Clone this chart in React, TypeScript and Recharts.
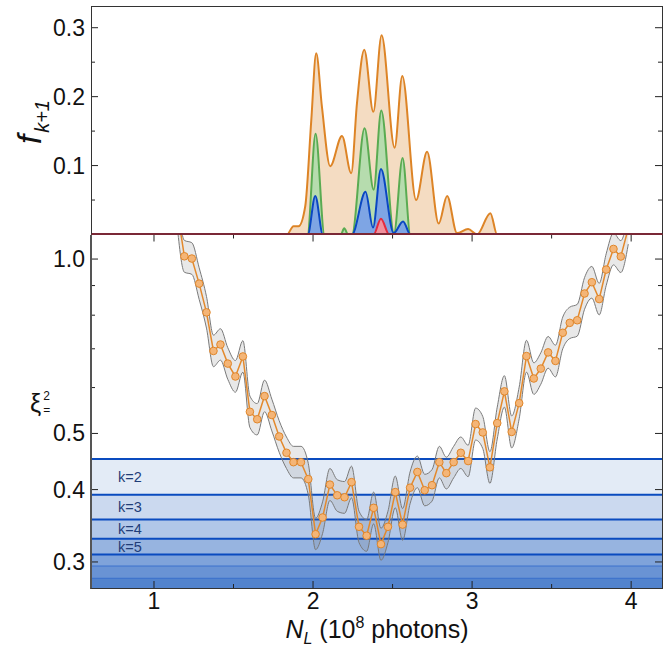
import React from "react";
import { ComposedChart, Area, Line, XAxis, YAxis, ReferenceArea, ReferenceLine } from "recharts";

const FONT = "'Liberation Sans', Arial, Helvetica, sans-serif";

// top panel: f_{k+1} against N_L, one curve per k
const orangeN = [0.6, 1.836, 1.877, 1.909, 1.951, 1.989, 2.02, 2.056, 2.108, 2.182, 2.24, 2.276, 2.322, 2.379, 2.431, 2.513, 2.561, 2.648, 2.717, 2.79, 2.843, 2.905, 2.975, 3.031, 3.115, 3.157, 4.2];
const orangeF = [0, 0, 0.012, 0.012, 0.041, 0.166, 0.263, 0.185, 0.099, 0.143, 0.089, 0.19, 0.268, 0.178, 0.289, 0.126, 0.23, 0.05, 0.12, 0.016, 0.056, 0.002, 0.008, 0, 0.031, 0, 0];
const greenN = [0.6, 1.965, 2.016, 2.072, 2.175, 2.196, 2.22, 2.245, 2.324, 2.381, 2.429, 2.509, 2.563, 2.612, 4.2];
const greenF = [0, 0, 0.146, 0, 0, 0.009, 0, 0, 0.154, 0.065, 0.18, 0.002, 0.111, 0, 0];
const blueN = [0.6, 1.967, 2.014, 2.062, 2.245, 2.33, 2.377, 2.427, 2.507, 2.566, 2.612, 4.2];
const blueF = [0, 0, 0.056, 0, 0, 0.062, 0.01, 0.095, 0.002, 0.019, 0, 0];
const redN = [0.6, 2.381, 2.427, 2.479, 4.2];
const redF = [0, 0, 0.023, 0, 0];

// bottom panel: xi^2 with its error band
const xiN = [1.145, 1.191, 1.238, 1.284, 1.33, 1.374, 1.418, 1.464, 1.512, 1.559, 1.603, 1.649, 1.695, 1.741, 1.787, 1.833, 1.877, 1.924, 1.97, 2.016, 2.06, 2.106, 2.152, 2.198, 2.242, 2.289, 2.337, 2.381, 2.427, 2.471, 2.517, 2.563, 2.61, 2.656, 2.702, 2.748, 2.794, 2.838, 2.884, 2.929, 2.975, 3.022, 3.067, 3.112, 3.158, 3.203, 3.249, 3.296, 3.342, 3.388, 3.432, 3.478, 3.524, 3.57, 3.614, 3.661, 3.707, 3.753, 3.799, 3.843, 3.889, 3.935, 3.982];
const xi = [1.22, 1.011, 1.002, 0.907, 0.809, 0.694, 0.712, 0.66, 0.627, 0.679, 0.545, 0.529, 0.58, 0.538, 0.494, 0.463, 0.446, 0.446, 0.417, 0.335, 0.358, 0.408, 0.391, 0.388, 0.412, 0.345, 0.333, 0.372, 0.322, 0.345, 0.396, 0.348, 0.403, 0.429, 0.399, 0.407, 0.446, 0.427, 0.446, 0.463, 0.448, 0.519, 0.502, 0.437, 0.521, 0.591, 0.503, 0.564, 0.68, 0.622, 0.647, 0.69, 0.667, 0.746, 0.776, 0.784, 0.872, 0.912, 0.853, 0.959, 1.041, 1.01, 1.13];
const xiHi = [1.3, 1.077, 1.067, 0.966, 0.862, 0.739, 0.758, 0.703, 0.668, 0.723, 0.58, 0.563, 0.618, 0.573, 0.526, 0.493, 0.475, 0.475, 0.444, 0.357, 0.381, 0.435, 0.416, 0.413, 0.439, 0.367, 0.355, 0.396, 0.343, 0.367, 0.422, 0.371, 0.429, 0.457, 0.425, 0.433, 0.475, 0.455, 0.475, 0.493, 0.477, 0.553, 0.535, 0.465, 0.555, 0.629, 0.536, 0.601, 0.724, 0.662, 0.689, 0.735, 0.71, 0.794, 0.826, 0.835, 0.929, 0.971, 0.908, 1.021, 1.109, 1.076, 1.203];
const xiLo = [1.146, 0.949, 0.941, 0.852, 0.76, 0.652, 0.669, 0.62, 0.589, 0.638, 0.512, 0.497, 0.545, 0.505, 0.464, 0.435, 0.419, 0.419, 0.392, 0.315, 0.336, 0.383, 0.367, 0.364, 0.387, 0.324, 0.313, 0.349, 0.302, 0.324, 0.372, 0.327, 0.378, 0.403, 0.375, 0.382, 0.419, 0.401, 0.419, 0.435, 0.421, 0.487, 0.471, 0.41, 0.489, 0.555, 0.472, 0.53, 0.638, 0.584, 0.608, 0.648, 0.626, 0.7, 0.729, 0.736, 0.819, 0.856, 0.801, 0.9, 0.977, 0.948, 1.061];

// k thresholds on xi^2
const kThresholds = [0.4517, 0.392, 0.355, 0.329, 0.309, 0.295, 0.281];
const kLabels = ["k=2", "k=3", "k=4", "k=5", "", "", ""];
const kFills = ["#e3ebf6", "#cbd9ef", "#b1c7e8", "#97b4e0", "#7fa3da", "#6993d4", "#5283cd"];

const xTicks = [1, 1.5, 2, 2.5, 3, 3.5, 4];
const xMajor = [1, 2, 3, 4];
const fTicks = [0.05, 0.1, 0.15, 0.2, 0.25, 0.3];
const fMajor = [0.1, 0.2, 0.3];
const xiTicks = [0.3, 0.4, 0.5, 0.6, 0.7, 0.8, 0.9, 1.0];
const xiMajor = [0.3, 0.4, 0.5, 1.0];

const X_DOMAIN = [0.604, 4.194];
const F_DOMAIN = [0, 0.3315];
const XI_DOMAIN = [0.2705, 1.1025];

const PW = 571;
const TOP_H = 228.5;
const BOT_H = 353.5;

const topSeries = [
  { key: "orange", n: orangeN, f: orangeF, stroke: "#dd8426", fill: "#f4dcc2" },
  { key: "green", n: greenN, f: greenF, stroke: "#5aab52", fill: "#b6dcae" },
  { key: "blue", n: blueN, f: blueF, stroke: "#0a47c2", fill: "#7ea5e4" },
  { key: "red", n: redN, f: redF, stroke: "#e52b3e", fill: "#f0919d" },
];

const topRows = Array.from(new Set([...orangeN, ...greenN, ...blueN, ...redN]))
  .sort((a, b) => a - b)
  .map((n) => {
    const row: any = { n };
    topSeries.forEach((s) => {
      const i = s.n.indexOf(n);
      row[s.key] = i >= 0 ? s.f[i] : null;
    });
    return row;
  });

const bottomRows = xiN.map((n, i) => ({ n, xi: xi[i], band: [xiLo[i], xiHi[i]] }));

const makeXTick = (plotH: number, labels: boolean) => (p: any) => {
  const { x, y, payload } = p;
  const major = xMajor.includes(payload.value);
  const len = major ? 7 : 4;
  return (
    <g>
      <line x1={x} x2={x} y1={y} y2={y - len} stroke="#222" strokeWidth={1} />
      <line x1={x} x2={x} y1={y - plotH} y2={y - plotH + len} stroke="#222" strokeWidth={1} />
      {labels && major && (
        <text x={x} y={y + 21} textAnchor="middle" fontSize={23} fontFamily={FONT} fill="#111">
          {payload.value}
        </text>
      )}
    </g>
  );
};

const makeYTick = (majors: number[]) => (p: any) => {
  const { x, y, payload } = p;
  const major = majors.some((m) => Math.abs(m - payload.value) < 1e-9);
  const len = major ? 7 : 4;
  return (
    <g>
      <line x1={x} x2={x + len} y1={y} y2={y} stroke="#222" strokeWidth={1} />
      <line x1={x + PW} x2={x + PW - len} y1={y} y2={y} stroke="#222" strokeWidth={1} />
      {major && (
        <text x={x - 6} y={y + 8} textAnchor="end" fontSize={23} fontFamily={FONT} fill="#111">
          {payload.value.toFixed(1)}
        </text>
      )}
    </g>
  );
};

export default function App() {
  return (
    <div style={{ position: "fixed", left: 0, top: 0, width: 671, height: 649, background: "#fff", fontFamily: FONT }}>
      <div style={{ position: "absolute", left: 0, top: 0 }}>
        <ComposedChart width={671} height={240} data={topRows} margin={{ top: 6, right: 9, bottom: 5.5, left: 31 }}>
          <XAxis dataKey="n" type="number" domain={X_DOMAIN} allowDataOverflow ticks={xTicks} interval={0}
            height={0} tickSize={0} tickMargin={0} axisLine={false} tickLine={false} tick={makeXTick(TOP_H, false)} />
          <YAxis type="number" domain={F_DOMAIN} allowDataOverflow ticks={fTicks} interval={0}
            width={60} tickSize={0} tickMargin={0} axisLine={false} tickLine={false} tick={makeYTick(fMajor)} />
          {topSeries.map((s) => (
            <Area key={s.key} dataKey={s.key} type="monotone" connectNulls stroke={s.stroke} strokeWidth={2}
              fill={s.fill} fillOpacity={1} isAnimationActive={false} dot={false} activeDot={false} />
          ))}
        </ComposedChart>
      </div>
      <div style={{ position: "absolute", left: 0, top: 200 }}>
        <ComposedChart width={671} height={449} data={bottomRows} margin={{ top: 34.5, right: 9, bottom: 31, left: 31 }}>
          <XAxis dataKey="n" type="number" domain={X_DOMAIN} allowDataOverflow ticks={xTicks} interval={0}
            height={30} tickSize={0} tickMargin={0} axisLine={false} tickLine={false} tick={makeXTick(BOT_H, true)} />
          <YAxis type="number" scale="log" domain={XI_DOMAIN} allowDataOverflow ticks={xiTicks} interval={0}
            width={60} tickSize={0} tickMargin={0} axisLine={false} tickLine={false} tick={makeYTick(xiMajor)} />
          {kThresholds.map((t, i) => (
            <ReferenceArea key={"a" + i} y1={i + 1 < kThresholds.length ? kThresholds[i + 1] : XI_DOMAIN[0]} y2={t}
              fill={kFills[i]} fillOpacity={1} stroke="none" ifOverflow="hidden" zIndex={-20}
              label={kLabels[i] ? { value: kLabels[i], position: "insideLeft", offset: 27, fontSize: 14.5, fill: "#1f3d78", fontFamily: FONT } : undefined} />
          ))}
          {kThresholds.map((t, i) => (
            <ReferenceLine key={"l" + i} y={t} stroke={i < 5 ? "#0a4bbf" : "#3f74cc"} strokeWidth={i < 5 ? 2 : 1.2} zIndex={-10} />
          ))}
          <Area dataKey="band" type="monotone" stroke="#7a7a7a" strokeWidth={1} fill="#7f7f7f" fillOpacity={0.18}
            isAnimationActive={false} dot={false} activeDot={false} />
          <Line dataKey="xi" type="linear" stroke="#e3892c" strokeWidth={1.5} isAnimationActive={false}
            dot={{ r: 3.8, fill: "#f4b577", stroke: "#e0862a", strokeWidth: 1 }} activeDot={false} />
        </ComposedChart>
      </div>
      {/* panel frames */}
      <div style={{ position: "absolute", left: 90.5, top: 5.5, width: 572, height: 229.5, boxSizing: "border-box", border: "1px solid #333", borderBottom: "2px solid #7a2836" }} />
      <div style={{ position: "absolute", left: 90, top: 235, width: 572.5, height: 353.5, boxSizing: "border-box", borderLeft: "2px solid #555", borderRight: "1px solid #333", borderBottom: "1.5px solid #333" }} />
      {/* axis titles */}
      <div style={{ position: "absolute", left: 30, top: 122, transform: "translate(-50%, -50%) rotate(-90deg)", whiteSpace: "nowrap", color: "#111" }}>
        <span style={{ fontStyle: "italic", fontSize: 33 }}>f</span>
        <span style={{ fontStyle: "italic", fontSize: 20, position: "relative", top: 8, marginLeft: 2 }}>k+1</span>
      </div>
      <div style={{ position: "absolute", left: 30, top: 389, color: "#111", display: "flex", alignItems: "center", lineHeight: 1 }}>
        <span style={{ fontSize: 25, lineHeight: "28px", marginRight: 2 }}>ξ</span>
        <span style={{ display: "inline-flex", flexDirection: "column", fontSize: 12, lineHeight: "14px" }}>
          <span>2</span>
          <span>=</span>
        </span>
      </div>
      <div style={{ position: "absolute", left: 227, width: 300, top: 615, textAlign: "center", fontSize: 25, color: "#111", whiteSpace: "nowrap" }}>
        <span style={{ fontStyle: "italic" }}>N</span>
        <span style={{ fontStyle: "italic", fontSize: 16, position: "relative", top: 6 }}>L</span>
        {" (10"}
        <span style={{ fontSize: 16, position: "relative", top: -10 }}>8</span>
        {" photons)"}
      </div>
    </div>
  );
}
